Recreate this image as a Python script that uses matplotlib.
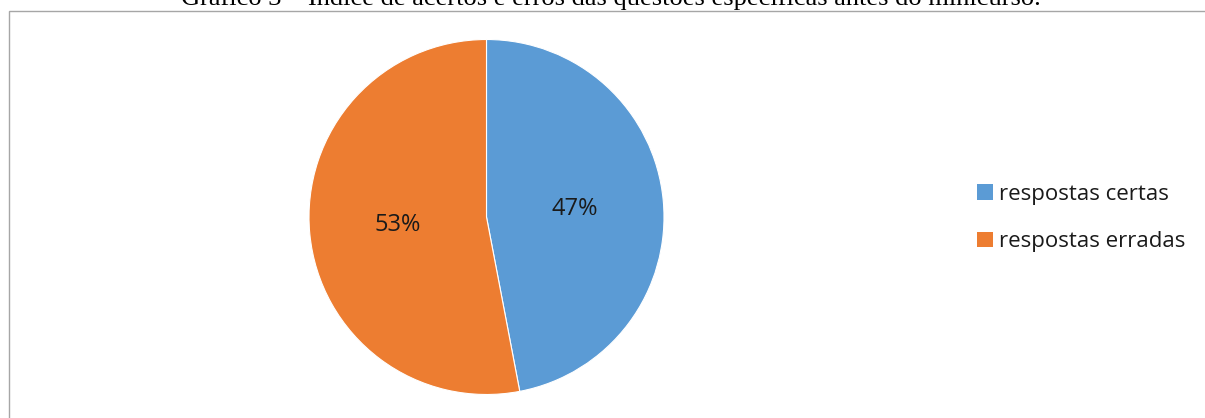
import matplotlib
matplotlib.use("Agg")
import matplotlib.pyplot as plt
from matplotlib.patches import Rectangle, Patch

categories = ["respostas certas", "respostas erradas"]
values = [47, 53]
colors = ["#5B9BD5", "#ED7D31"]
title = "Gráfico 3 – Índice de acertos e erros das questões específicas antes do minicurso."

W, H = 1205, 418
fig = plt.figure(figsize=(W / 100, H / 100), dpi=100)

# frame
fig.patches.append(Rectangle((8.5 / W, -0.1), 1.2, 1.1 - 10.5 / H,
                             transform=fig.transFigure, fill=False,
                             edgecolor="#A6A6A6", linewidth=1.0))
# title (partially clipped at top as in reference)
fig.text(611 / W, 1 - 5 / H, title, ha="center", va="baseline",
         family="Liberation Serif", fontsize=19, color="black")

cx, cy, r = 486.5, 217, 177.5
ax = fig.add_axes([(cx - r) / W, (H - cy - r) / H, 2 * r / W, 2 * r / H])
wedges, texts, autotexts = ax.pie(values, colors=colors, startangle=90, counterclock=False,
                                  autopct="%1.0f%%", pctdistance=0.5,
                                  wedgeprops=dict(edgecolor="white", linewidth=0.8),
                                  textprops=dict(family="Open Sans", fontsize=17, color="#1a1a1a"))
ax.set_xlim(-1, 1)
ax.set_ylim(-1, 1)
ax.set_aspect("equal")
ax.axis("off")

handles = [Patch(facecolor=c, edgecolor="none") for c in colors]
leg = fig.legend(handles, categories, loc="center left",
                 bbox_to_anchor=(957.5 / W, 1 - 218 / H), frameon=False,
                 prop=dict(family="Open Sans", size=16), handlelength=0.68, handleheight=0.68,
                 handletextpad=0.3, labelspacing=1.2)
for t in leg.get_texts():
    t.set_color("#1a1a1a")

fig.savefig("out.png", dpi=100)
